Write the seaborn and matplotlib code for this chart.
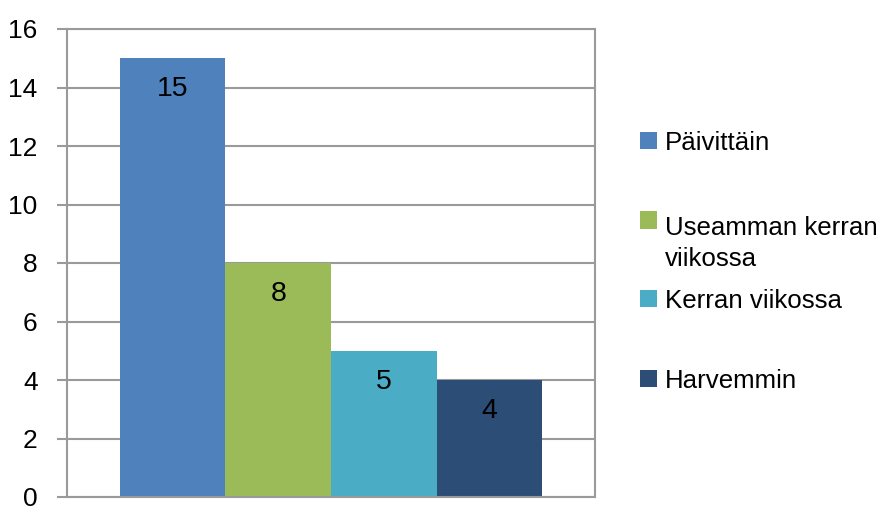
import matplotlib
matplotlib.use("Agg")
import matplotlib.pyplot as plt
from matplotlib.patches import Rectangle
import seaborn as sns

categories = ["Päivittäin", "Useamman kerran\nviikossa", "Kerran viikossa", "Harvemmin"]
values = [15, 8, 5, 4]
colors = ["#4F81BD", "#9BBB59", "#4BACC6", "#2C4D75"]
yticks = [0, 2, 4, 6, 8, 10, 12, 14, 16]

sns.set_style("white")
plt.rcParams['font.family'] = ['Liberation Sans', 'DejaVu Sans']
plt.rcParams['text.color'] = 'black'

W, H = 882, 508
fig = plt.figure(figsize=(W / 100, H / 100), dpi=100)
ax = fig.add_axes([67 / W, 1 - 497 / H, (595 - 67) / W, (497 - 29) / H])

sns.barplot(x=categories, y=values, hue=categories, palette=colors, width=1,
            saturation=1, legend=False, ax=ax, linewidth=0)

ax.set_xlim(-1, 4)
ax.set_ylim(0, 16)
ax.set_yticks(yticks)
ax.set_xticks([])
ax.set_xlabel("")
ax.set_ylabel("")
ax.yaxis.grid(True, color="#9A9A9A", linewidth=1.5)
ax.set_axisbelow(True)
for s in ax.spines.values():
    s.set_color("#9A9A9A")
    s.set_linewidth(1.5)
ax.tick_params(axis="y", left=True, length=7.2, width=1.5, color="#9A9A9A",
               pad=14, labelsize=19, labelcolor="black")

# value labels inside the bars, near the top
for bar, v in zip(ax.patches, values):
    ax.annotate(str(v), (bar.get_x() + bar.get_width() / 2, bar.get_height()),
                xytext=(0, -22.5), textcoords="offset points",
                ha="center", va="center", fontsize=20.5, color="black")

# legend, Excel-like: fixed step per entry, marker on the first line
leg_y = [141, 220, 298, 378]
line_px = 37
for lab, col, yc in zip(categories, colors, leg_y):
    fig.patches.append(Rectangle((640 / W, 1 - (yc + 8.5) / H), 17 / W, 17 / H,
                                 transform=fig.transFigure, facecolor=col,
                                 edgecolor="none"))
    extra = lab.count("\n") * line_px
    fig.text(665 / W, 1 - (yc + 9.5 + extra) / H, lab, ha="left", va="baseline",
             fontsize=18.6, linespacing=1.4, color="black")

fig.savefig("out.png", dpi=100)
